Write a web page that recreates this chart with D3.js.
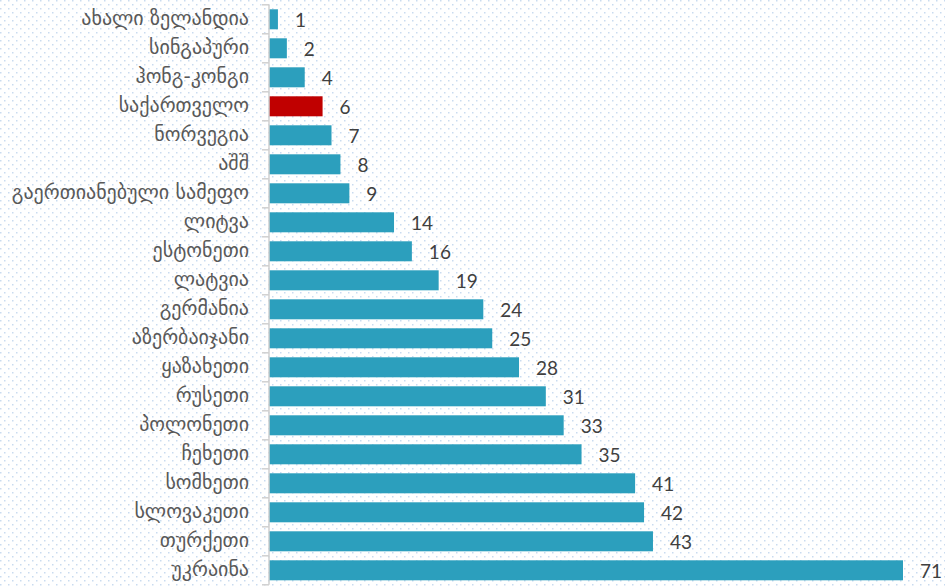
<!DOCTYPE html>
<html>
<head>
<meta charset="utf-8">
<script src="https://cdn.jsdelivr.net/npm/d3@7"></script>
<style>
  body { margin: 0; background: #fff; }
  svg { display: block; }
</style>
</head>
<body>
<div id="chart"></div>
<script>
// Countries and values, top to bottom
const countries = [
  "ახალი ზელანდია", "სინგაპური", "ჰონგ-კონგი", "საქართველო", "ნორვეგია",
  "აშშ", "გაერთიანებული სამეფო", "ლიტვა", "ესტონეთი", "ლატვია",
  "გერმანია", "აზერბაიჯანი", "ყაზახეთი", "რუსეთი", "პოლონეთი",
  "ჩეხეთი", "სომხეთი", "სლოვაკეთი", "თურქეთი", "უკრაინა"
];
const values = [1, 2, 4, 6, 7, 8, 9, 14, 16, 19, 24, 25, 28, 31, 33, 35, 41, 42, 43, 71];
const highlight = "საქართველო";

const width = 945, height = 587;

const svg = d3.select("#chart").append("svg")
  .attr("width", width)
  .attr("height", height);

// dotted background pattern
const defs = svg.append("defs");
const pat = defs.append("pattern")
  .attr("id", "dots")
  .attr("width", 8).attr("height", 8)
  .attr("patternUnits", "userSpaceOnUse");
pat.append("rect").attr("x", 0).attr("y", 0).attr("width", 1.5).attr("height", 1.5).attr("fill", "#c9dbf0");
pat.append("rect").attr("x", 4).attr("y", 4).attr("width", 1.5).attr("height", 1.5).attr("fill", "#c9dbf0");
svg.append("rect").attr("width", width).attr("height", height).attr("fill", "url(#dots)");

const x = d3.scaleLinear().domain([0, 71]).range([269, 903]);
const y = d3.scaleBand().domain(countries).range([4.8, 584.8]).paddingInner(0.31).paddingOuter(0.155);

// bars
svg.selectAll("rect.bar")
  .data(countries)
  .join("rect")
  .attr("class", "bar")
  .attr("x", x(0))
  .attr("y", d => y(d))
  .attr("width", (d, i) => x(values[i]) - x(0))
  .attr("height", y.bandwidth())
  .attr("fill", d => d === highlight ? "#c00000" : "#2c9fbd");

// value labels
svg.selectAll("text.val")
  .data(countries)
  .join("text")
  .attr("class", "val")
  .attr("x", (d, i) => x(values[i]) + 17)
  .attr("y", d => y(d) + y.bandwidth() / 2)
  .attr("dy", "0.38em")
  .attr("font-family", "Lato, 'Open Sans', sans-serif")
  .attr("font-size", 19)
  .attr("fill", "#404040")
  .text((d, i) => values[i]);

// category axis with ticks on the band boundaries
const ax = svg.append("g");
const step = y.step();
const edges = d3.range(countries.length + 1).map(i => 4.8 + i * step);
ax.append("line")
  .attr("x1", 269).attr("x2", 269)
  .attr("y1", edges[0]).attr("y2", edges[edges.length - 1])
  .attr("stroke", "#d0d0d0").attr("stroke-width", 1.5);
ax.selectAll("line.tick")
  .data(edges)
  .join("line")
  .attr("class", "tick")
  .attr("x1", 262).attr("x2", 269)
  .attr("y1", d => d).attr("y2", d => d)
  .attr("stroke", "#d0d0d0").attr("stroke-width", 1.5);

ax.selectAll("text.cat")
  .data(countries)
  .join("text")
  .attr("class", "cat")
  .attr("x", 249)
  .attr("y", d => y(d) + y.bandwidth() / 2)
  .attr("dy", "0.3em")
  .attr("text-anchor", "end")
  .attr("font-family", "'DejaVu Sans', sans-serif")
  .attr("font-size", 20)
  .attr("fill", "#595959")
  .text(d => d);
</script>
</body>
</html>
